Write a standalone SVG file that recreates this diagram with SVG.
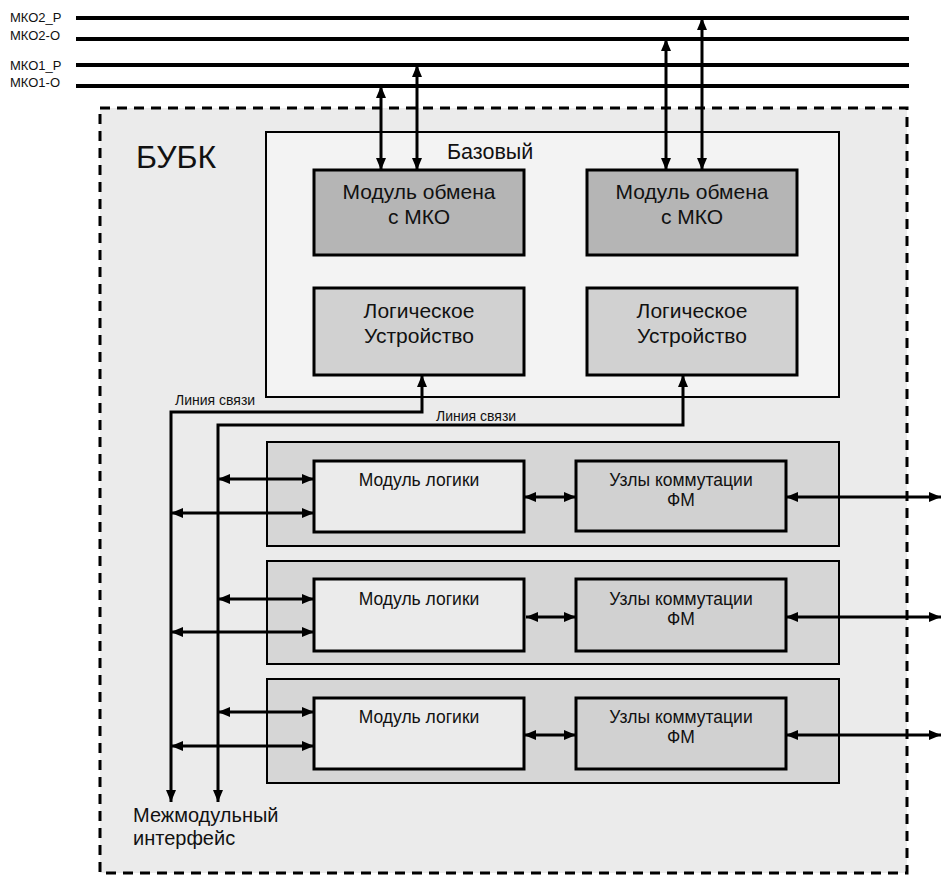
<svg xmlns="http://www.w3.org/2000/svg" width="942" height="877" viewBox="0 0 942 877">
  <style>
    text { font-family: "Liberation Sans", Arial, sans-serif; fill: #111; }
    .bus { stroke: #000; stroke-width: 4; fill: none; }
    .busLabel { font-size: 13px; }
    .wire { stroke: #000; stroke-width: 3; fill: none; }
    .box { stroke: #000; stroke-width: 3; }
    .frame { stroke: #000; stroke-width: 2; }
    .big { font-size: 21px; text-anchor: middle; }
    .mid { font-size: 17.5px; text-anchor: middle; }
    .small { font-size: 14px; }
  </style>
  <defs>
    <marker id="head" viewBox="0 0 12 10" refX="12" refY="5" markerWidth="12" markerHeight="10" markerUnits="userSpaceOnUse" orient="auto-start-reverse">
      <path d="M0,0 L12,5 L0,10 z" fill="#000"/>
    </marker>
  </defs>

  <rect width="942" height="877" fill="#fff"/>

  <!-- bus lines -->
  <g id="buses">
    <line class="bus" x1="76" y1="18" x2="909" y2="18"/>
    <line class="bus" x1="76" y1="39" x2="909" y2="39"/>
    <line class="bus" x1="76" y1="65" x2="909" y2="65"/>
    <line class="bus" x1="76" y1="86" x2="909" y2="86"/>
    <text class="busLabel" x="10" y="22">МКО2_Р</text>
    <text class="busLabel" x="10" y="40">МКО2-О</text>
    <text class="busLabel" x="10" y="70">МКО1_Р</text>
    <text class="busLabel" x="10" y="87">МКО1-О</text>
  </g>

  <!-- БУБК enclosure -->
  <g id="bubk">
    <rect x="100" y="108" width="807" height="765" fill="#ebebeb" stroke="#000" stroke-width="3" stroke-dasharray="10 7"/>
    <text x="136" y="168" font-size="32">БУБК</text>
  </g>

  <!-- Базовый module -->
  <g id="bazovy">
    <rect class="frame" x="266" y="132" width="573" height="265" fill="#f3f3f3"/>
    <text x="447" y="159" font-size="21.5">Базовый</text>
  </g>

  <g id="mko-left">
    <rect class="box" x="314" y="170" width="210" height="85" fill="#b5b5b5"/>
    <text class="big" x="419" y="199">Модуль обмена</text>
    <text class="big" x="419" y="224">с МКО</text>
  </g>
  <g id="mko-right">
    <rect class="box" x="587" y="170" width="210" height="85" fill="#b5b5b5"/>
    <text class="big" x="692" y="199">Модуль обмена</text>
    <text class="big" x="692" y="224">с МКО</text>
  </g>
  <g id="lu-left">
    <rect class="box" x="314" y="288" width="210" height="87" fill="#d1d1d1"/>
    <text class="big" x="419" y="318">Логическое</text>
    <text class="big" x="419" y="343">Устройство</text>
  </g>
  <g id="lu-right">
    <rect class="box" x="587" y="288" width="210" height="87" fill="#d1d1d1"/>
    <text class="big" x="692" y="318">Логическое</text>
    <text class="big" x="692" y="343">Устройство</text>
  </g>

  <!-- functional module rows -->
  <g id="row1">
    <rect class="frame" x="267" y="442" width="572" height="104" fill="#d6d6d6"/>
    <rect class="box" x="314" y="461" width="210" height="71" fill="#ebebeb"/>
    <text class="mid" x="419" y="486">Модуль логики</text>
    <rect class="box" x="576" y="461" width="210" height="70" fill="#d1d1d1"/>
    <text class="mid" x="681" y="486">Узлы коммутации</text>
    <text class="mid" x="681" y="506">ФМ</text>
  </g>
  <g id="row2">
    <rect class="frame" x="267" y="561" width="572" height="103" fill="#d6d6d6"/>
    <rect class="box" x="314" y="579" width="210" height="72" fill="#ebebeb"/>
    <text class="mid" x="419" y="605">Модуль логики</text>
    <rect class="box" x="576" y="579" width="210" height="72" fill="#d1d1d1"/>
    <text class="mid" x="681" y="605">Узлы коммутации</text>
    <text class="mid" x="681" y="625">ФМ</text>
  </g>
  <g id="row3">
    <rect class="frame" x="267" y="679" width="572" height="104" fill="#d6d6d6"/>
    <rect class="box" x="314" y="698" width="210" height="71" fill="#ebebeb"/>
    <text class="mid" x="419" y="723">Модуль логики</text>
    <rect class="box" x="576" y="698" width="210" height="71" fill="#d1d1d1"/>
    <text class="mid" x="681" y="723">Узлы коммутации</text>
    <text class="mid" x="681" y="743">ФМ</text>
  </g>

  <g id="interface-label">
    <text x="133" y="822" font-size="20">Межмодульный</text>
    <text x="133" y="845" font-size="20">интерфейс</text>
  </g>

  <!-- connectors -->
  <g id="connectors">
    <!-- bus taps -->
    <line class="wire" x1="381" y1="86" x2="381" y2="170" marker-start="url(#head)" marker-end="url(#head)"/>
    <line class="wire" x1="417" y1="65" x2="417" y2="170" marker-start="url(#head)" marker-end="url(#head)"/>
    <line class="wire" x1="666" y1="39" x2="666" y2="170" marker-start="url(#head)" marker-end="url(#head)"/>
    <line class="wire" x1="702" y1="18" x2="702" y2="170" marker-start="url(#head)" marker-end="url(#head)"/>

    <!-- communication lines -->
    <path class="wire" d="M171,802 V412 H422 V375" marker-start="url(#head)" marker-end="url(#head)"/>
    <text class="small" x="175" y="405">Линия связи</text>
    <path class="wire" d="M218,802 V425 H683 V375" marker-start="url(#head)" marker-end="url(#head)"/>
    <text class="small" x="436" y="421">Линия связи</text>

    <!-- row 1 -->
    <line class="wire" x1="218" y1="479" x2="314" y2="479" marker-start="url(#head)" marker-end="url(#head)"/>
    <line class="wire" x1="171" y1="513" x2="314" y2="513" marker-start="url(#head)" marker-end="url(#head)"/>
    <line class="wire" x1="524" y1="497" x2="576" y2="497" marker-start="url(#head)" marker-end="url(#head)"/>
    <line class="wire" x1="786" y1="497" x2="941" y2="497" marker-start="url(#head)" marker-end="url(#head)"/>

    <!-- row 2 -->
    <line class="wire" x1="218" y1="599" x2="314" y2="599" marker-start="url(#head)" marker-end="url(#head)"/>
    <line class="wire" x1="171" y1="632" x2="314" y2="632" marker-start="url(#head)" marker-end="url(#head)"/>
    <line class="wire" x1="526" y1="617" x2="576" y2="617" marker-start="url(#head)" marker-end="url(#head)"/>
    <line class="wire" x1="786" y1="617" x2="941" y2="617" marker-start="url(#head)" marker-end="url(#head)"/>

    <!-- row 3 -->
    <line class="wire" x1="218" y1="712" x2="314" y2="712" marker-start="url(#head)" marker-end="url(#head)"/>
    <line class="wire" x1="171" y1="746" x2="314" y2="746" marker-start="url(#head)" marker-end="url(#head)"/>
    <line class="wire" x1="524" y1="735" x2="576" y2="735" marker-start="url(#head)" marker-end="url(#head)"/>
    <line class="wire" x1="786" y1="735" x2="941" y2="735" marker-start="url(#head)" marker-end="url(#head)"/>
  </g>
</svg>
